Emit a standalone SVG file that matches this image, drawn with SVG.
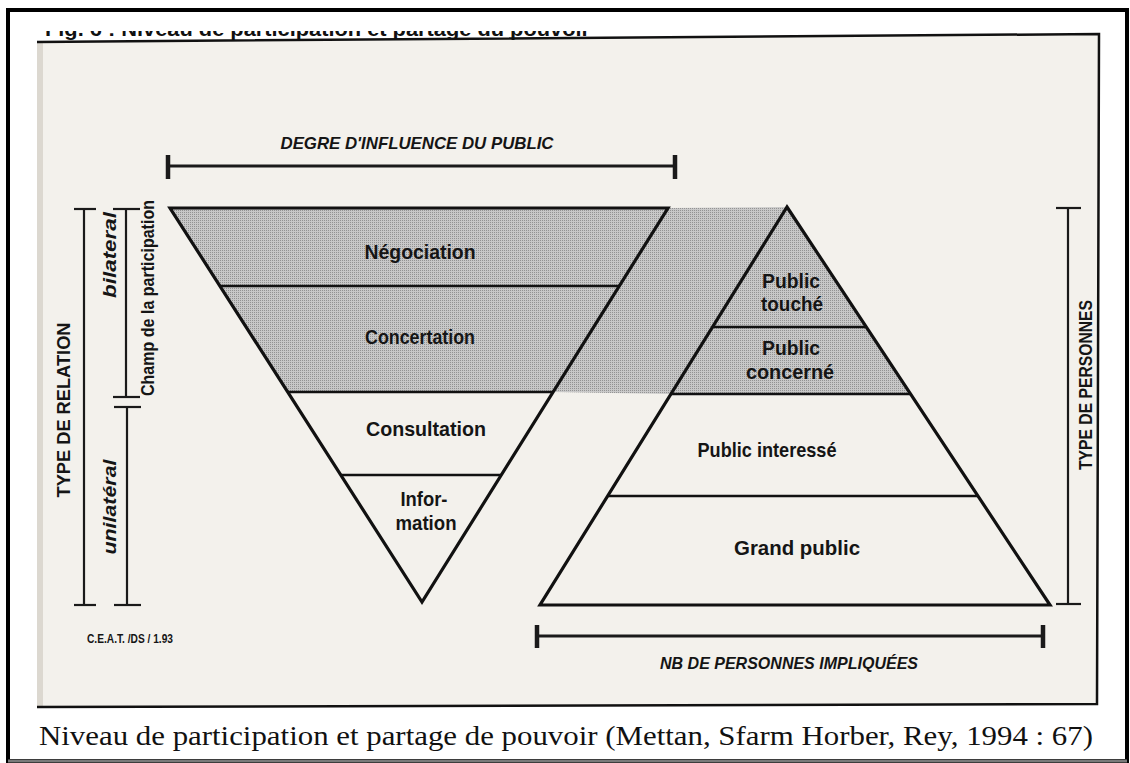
<svg xmlns="http://www.w3.org/2000/svg" width="1130" height="763" viewBox="0 0 1130 763">
  <style>
    .lbl { font-family: "Liberation Sans", Arial, sans-serif; font-weight: bold; font-size: 21px; fill: #151515; text-anchor: middle; }
    .axis { font-family: "Liberation Sans", Arial, sans-serif; font-weight: bold; font-style: italic; font-size: 17px; fill: #151515; text-anchor: middle; }
    .vert { font-family: "Liberation Sans", Arial, sans-serif; font-weight: bold; font-size: 18px; fill: #151515; text-anchor: middle; }
    .edge { stroke: #111; stroke-width: 3.2; fill: none; stroke-linejoin: miter; }
    .div { stroke: #111; stroke-width: 2.6; fill: none; }
    .rule { stroke: #1a1a1a; stroke-width: 3; fill: none; }
    .cap { stroke: #1a1a1a; stroke-width: 4.5; fill: none; }
    .tick { stroke: #1a1a1a; stroke-width: 2.2; fill: none; }
    .shade { fill: url(#dots); stroke: none; }
  </style>
  <defs>
    <pattern id="dots" width="2" height="2" patternUnits="userSpaceOnUse">
      <rect width="2" height="2" fill="#c8c8c8"/>
      <rect width="1" height="1" fill="#939393"/>
    </pattern>
    <clipPath id="hdrclip">
      <rect x="37" y="31" width="600" height="10"/>
    </clipPath>
  </defs>

  <!-- page -->
  <rect x="0" y="0" width="1130" height="763" fill="#ffffff"/>
  <rect x="8" y="10" width="1119" height="751" fill="#ffffff" stroke="#000" stroke-width="4"/>
  <line x1="8" y1="761" x2="1127" y2="761" stroke="#7a7a7a" stroke-width="3"/>

  <!-- scanned sheet -->
  <polygon points="37,43 1099,34 1097,704 37,707" fill="#f3f1ec"/>
  <rect x="37" y="43" width="6" height="664" fill="#dcd8d0"/>
  <text x="45" y="36" clip-path="url(#hdrclip)" font-family="Liberation Sans, Arial, sans-serif" font-weight="bold" font-size="21" fill="#111" textLength="545" lengthAdjust="spacingAndGlyphs">Fig. 6 :   Niveau de participation et partage du pouvoir</text>
  <polyline points="37,42 1099,34 1097,704 37,707" fill="none" stroke="#111" stroke-width="2.5"/>

  <!-- shaded participation field -->
  <g id="shaded-field">
    <polygon class="shade" points="668,208 787,207 670.9,394 553.1,392"/>
  </g>

  <!-- inverted triangle levels -->
  <g id="negociation">
    <polygon class="shade" points="170,208 668,208 619.3,286 219.9,286"/>
    <text class="lbl" x="420" y="259" textLength="111" lengthAdjust="spacingAndGlyphs">Négociation</text>
  </g>
  <g id="concertation">
    <polygon class="shade" points="219.9,286 619.3,286 553.1,392 287.7,392"/>
    <text class="lbl" x="420" y="344" textLength="110" lengthAdjust="spacingAndGlyphs">Concertation</text>
  </g>
  <g id="consultation">
    <text class="lbl" x="426" y="436" textLength="120" lengthAdjust="spacingAndGlyphs">Consultation</text>
  </g>
  <g id="information">
    <text class="lbl" x="424" y="506" textLength="47" lengthAdjust="spacingAndGlyphs">Infor-</text>
    <text class="lbl" x="426" y="530" textLength="61" lengthAdjust="spacingAndGlyphs">mation</text>
  </g>

  <!-- pyramid levels -->
  <g id="public-touche">
    <polygon class="shade" points="787,207 866.3,327 712.5,327"/>
    <text class="lbl" x="791" y="288" textLength="58" lengthAdjust="spacingAndGlyphs">Public</text>
    <text class="lbl" x="792" y="311" textLength="62" lengthAdjust="spacingAndGlyphs">touché</text>
  </g>
  <g id="public-concerne">
    <polygon class="shade" points="712.5,327 866.3,327 910.6,394 670.9,394"/>
    <text class="lbl" x="791" y="355" textLength="58" lengthAdjust="spacingAndGlyphs">Public</text>
    <text class="lbl" x="790" y="379" textLength="88" lengthAdjust="spacingAndGlyphs">concerné</text>
  </g>
  <g id="public-interesse">
    <text class="lbl" x="767" y="457" textLength="139" lengthAdjust="spacingAndGlyphs">Public interessé</text>
  </g>
  <g id="grand-public">
    <text class="lbl" x="797" y="555" textLength="126" lengthAdjust="spacingAndGlyphs">Grand public</text>
  </g>

  <!-- outlines -->
  <g id="outlines">
    <polygon class="edge" points="170,208 668,208 422,602"/>
    <line class="div" x1="219.9" y1="286" x2="619.3" y2="286"/>
    <line class="div" x1="287.7" y1="392" x2="553.1" y2="392"/>
    <line class="div" x1="340.8" y1="475" x2="501.3" y2="475"/>
    <polygon class="edge" points="787,207 1050,605 540,605"/>
    <line class="div" x1="712.5" y1="327" x2="866.3" y2="327"/>
    <line class="div" x1="670.9" y1="394" x2="910.6" y2="394"/>
    <line class="div" x1="607.6" y1="496" x2="978" y2="496"/>
  </g>

  <!-- axes / rulers -->
  <g id="connectors">
    <line class="rule" x1="168" y1="166" x2="675" y2="166"/>
    <line class="cap" x1="168" y1="155" x2="168" y2="179"/>
    <line class="cap" x1="675" y1="155" x2="675" y2="179"/>
    <line class="rule" x1="537" y1="636" x2="1043" y2="636"/>
    <line class="cap" x1="537" y1="625" x2="537" y2="648"/>
    <line class="cap" x1="1043" y1="625" x2="1043" y2="648"/>
    <line class="tick" x1="84" y1="209" x2="84" y2="605"/>
    <line class="tick" x1="74" y1="209" x2="96" y2="209"/>
    <line class="tick" x1="74" y1="605" x2="96" y2="605"/>
    <line class="tick" x1="126" y1="209" x2="126" y2="397"/>
    <line class="tick" x1="113" y1="209" x2="140" y2="209"/>
    <line class="tick" x1="113" y1="397" x2="140" y2="397"/>
    <line class="tick" x1="127" y1="407" x2="127" y2="605"/>
    <line class="tick" x1="114" y1="407" x2="141" y2="407"/>
    <line class="tick" x1="114" y1="605" x2="141" y2="605"/>
    <line class="tick" x1="1068" y1="208" x2="1068" y2="604"/>
    <line class="tick" x1="1056" y1="208" x2="1081" y2="208"/>
    <line class="tick" x1="1056" y1="604" x2="1081" y2="604"/>
  </g>

  <!-- axis labels -->
  <g id="axis-labels">
    <text class="axis" x="417" y="149" textLength="273" lengthAdjust="spacingAndGlyphs">DEGRE D'INFLUENCE DU PUBLIC</text>
    <text class="axis" x="789" y="669" textLength="258" lengthAdjust="spacingAndGlyphs">NB DE PERSONNES IMPLIQUÉES</text>
    <text class="vert" transform="translate(70,410) rotate(-90)" textLength="175" lengthAdjust="spacingAndGlyphs">TYPE DE RELATION</text>
    <text class="vert" transform="translate(116,255) rotate(-90)" font-style="italic" font-size="21" textLength="86" lengthAdjust="spacingAndGlyphs">bilateral</text>
    <text class="vert" transform="translate(116,507) rotate(-90)" font-style="italic" font-size="21" textLength="95" lengthAdjust="spacingAndGlyphs">unilatéral</text>
    <text class="vert" transform="translate(154,298) rotate(-90)" font-size="17" textLength="196" lengthAdjust="spacingAndGlyphs">Champ de la participation</text>
    <text class="vert" transform="translate(1092,385) rotate(-90)" textLength="170" lengthAdjust="spacingAndGlyphs">TYPE DE PERSONNES</text>
    <text x="87" y="643" font-family="Liberation Sans, Arial, sans-serif" font-weight="bold" font-size="12" fill="#151515" textLength="86" lengthAdjust="spacingAndGlyphs">C.E.A.T. /DS / 1.93</text>
  </g>

  <!-- caption -->
  <text x="566" y="745" font-family="Liberation Serif, Times New Roman, serif" font-size="28" fill="#111" text-anchor="middle" textLength="1054" lengthAdjust="spacingAndGlyphs">Niveau de participation et partage de pouvoir (Mettan, Sfarm Horber, Rey, 1994 : 67)</text>
</svg>
